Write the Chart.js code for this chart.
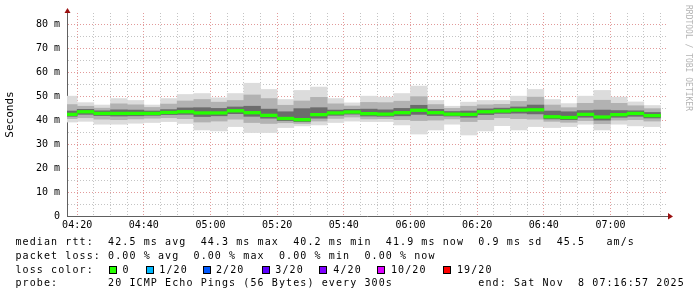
<!DOCTYPE html>
<html>
<head>
<meta charset="utf-8">
<script src="https://cdn.jsdelivr.net/npm/chart.js@4/dist/chart.umd.min.js"></script>
<style>
  html, body { margin: 0; padding: 0; background: #fff; }
  #wrap { position: relative; width: 697px; height: 297px; overflow: hidden; }
  #graph { position: absolute; left: 0; top: 0; }
  .leg { position: absolute; font-family: "DejaVu Sans Mono", monospace; font-size: 10px;
         letter-spacing: 1.1px; white-space: pre; color: #000; line-height: 12px; }
  .box { position: absolute; width: 6px; height: 6px; border: 1px solid #000; top: 265.5px; }
  #credit { position: absolute; left: 684px; top: 5px; font-family: "DejaVu Sans Mono", monospace;
            font-size: 8px; color: #b4b4b4; writing-mode: vertical-rl; white-space: pre; }
</style>
</head>
<body>
<div id="wrap">
  <canvas id="graph" width="697" height="297"></canvas>
  <div id="credit">RRDTOOL / TOBI OETIKER</div>
  <div class="leg" style="left:15.5px;top:236px">median rtt:  42.5 ms avg  44.3 ms max  40.2 ms min  41.9 ms now  0.9 ms sd  45.5   am/s</div>
  <div class="leg" style="left:15.5px;top:249.5px">packet loss: 0.00 % avg  0.00 % max  0.00 % min  0.00 % now</div>
  <div class="leg" id="lossRow" style="left:15.5px;top:263.8px">loss color:</div>
  <div class="leg" style="left:15.5px;top:277.2px">probe:       20 ICMP Echo Pings (56 Bytes) every 300s            end: Sat Nov  8 07:16:57 2025</div>
</div>
<script>
// 5 minute slots (end time of each slot)
const slotEnd = ['04:20','04:25','04:30','04:35','04:40','04:45','04:50','04:55',
  '05:00','05:05','05:10','05:15','05:20','05:25','05:30','05:35','05:40','05:45','05:50','05:55',
  '06:00','06:05','06:10','06:15','06:20','06:25','06:30','06:35','06:40','06:45','06:50','06:55',
  '07:00','07:05','07:10','07:15'];

// smoke: ping rtt spread per slot (ms), outer to inner
const maxRtt  = [50.0,47.3,46.3,49.0,48.2,46.3,49.0,50.7,51.1,49.3,51.1,55.4,52.8,48.6,52.4,53.8,49.0,47.2,
                 50.0,49.6,51.1,54.2,48.2,45.8,47.5,48.2,48.2,50.0,52.8,48.6,46.9,50.0,52.4,49.6,47.6,46.1];
const upRtt   = [46.5,45.8,45.0,46.8,46.4,45.3,46.7,48.0,48.6,47.5,48.2,50.5,49.0,46.2,48.0,49.5,46.8,45.9,
                 47.4,47.3,47.9,49.8,46.5,44.9,45.8,46.4,46.6,47.8,49.6,46.3,45.2,47.0,48.3,47.0,46.0,44.8];
const hiRtt   = [43.8,44.5,43.9,44.3,44.2,43.8,44.4,45.1,45.2,44.9,45.5,45.8,44.6,43.5,44.8,45.2,44.2,44.5,
                 44.6,44.3,44.9,46.2,44.5,43.6,43.8,44.7,45.0,45.5,46.3,43.8,43.5,44.0,44.2,44.0,43.9,43.2];
const medianRtt = [42.4,43.5,42.8,42.8,42.8,42.8,43.2,43.5,43.0,43.0,43.9,43.1,42.0,40.7,40.2,42.3,43.0,43.4,
                 42.7,42.5,43.1,44.1,43.1,42.5,42.4,43.5,43.8,44.2,44.3,41.4,41.1,42.4,41.3,42.3,42.8,41.9];
const loRtt   = [41.6,42.4,41.9,41.7,41.8,42.0,42.3,42.4,41.5,41.8,42.7,41.6,40.8,39.8,39.4,40.8,42.0,42.5,
                 41.7,41.6,41.8,42.4,41.9,41.7,41.2,42.3,42.8,42.9,42.6,40.5,40.2,41.2,40.0,41.2,41.6,40.9];
const downRtt = [40.6,41.0,40.4,40.2,40.5,40.8,41.0,40.6,39.2,39.6,40.4,39.0,38.6,38.9,38.6,39.6,40.7,41.3,
                 40.5,40.6,40.2,39.8,40.0,40.5,39.4,40.2,41.0,40.6,40.4,39.5,39.1,39.8,38.5,40.0,40.2,39.6];
const minRtt  = [39.2,39.5,38.3,38.3,38.7,39.0,39.4,38.6,35.9,35.5,37.3,34.8,34.8,36.9,37.6,38.0,39.0,39.6,
                 39.4,39.4,38.0,34.2,35.9,38.3,33.8,35.5,37.7,35.9,37.3,36.9,37.3,38.3,35.9,38.3,37.6,37.3];

const startTime = '04:16:57';
const endTime = '07:16:57';
const xTickLabels = ['04:20','04:40','05:00','05:20','05:40','06:00','06:20','06:40','07:00'];
const yTickLabels = [0, 10, 20, 30, 40, 50, 60, 70, 80];
const yMax = 84.7;

const lossLabels = ['0','1/20','2/20','3/20','4/20','10/20','19/20'];
const lossColors = ['#26ff00','#00b8ff','#0059ff','#5e00ff','#7e00ff','#dd00ff','#ff0000'];

// legend boxes for loss colors
const boxX = [108.7, 145.7, 202.7, 261.7, 319.3, 376.7, 443.3];
const labelX = [122.5, 159.3, 216, 275.3, 333.3, 391, 457];
const wrap = document.getElementById('wrap');
lossLabels.forEach((lab, i) => {
  const b = document.createElement('div');
  b.className = 'box';
  b.style.left = boxX[i] + 'px';
  b.style.background = lossColors[i];
  wrap.appendChild(b);
  const t = document.createElement('div');
  t.className = 'leg';
  t.style.left = labelX[i] + 'px';
  t.style.top = '263.8px';
  t.textContent = lab;
  wrap.appendChild(t);
});

const toMin = s => {
  const [h, m, sec = 0] = s.split(':').map(Number);
  return h * 60 + m + sec / 60;
};
const pad = n => String(n).padStart(2, '0');
const fmt = v => pad(Math.floor(v / 60)) + ':' + pad(Math.round(v % 60));

const centers = slotEnd.map(s => toMin(s) - 2.5);
const band = (lo, hi) => centers.map((x, i) => ({ x, y: [lo[i], hi[i]] }));

const majorGrid = '#e29a9a';
const minorGrid = '#c4c4c4';
const lineHalf = 0.55; // half thickness of the median line, ms

// axis arrows
const arrows = {
  id: 'arrows',
  afterDraw(chart) {
    const { ctx, chartArea: a } = chart;
    ctx.save();
    ctx.fillStyle = '#9a1010';
    ctx.beginPath();
    ctx.moveTo(a.left - 2.5, a.top);
    ctx.lineTo(a.left + 3.5, a.top);
    ctx.lineTo(a.left + 0.5, a.top - 5);
    ctx.closePath();
    ctx.fill();
    ctx.beginPath();
    ctx.moveTo(a.right + 1, a.bottom - 3);
    ctx.lineTo(a.right + 1, a.bottom + 3.5);
    ctx.lineTo(a.right + 6, a.bottom + 0.5);
    ctx.closePath();
    ctx.fill();
    ctx.restore();
  }
};

const tickFont = { family: 'DejaVu Sans Mono', size: 10 };

new Chart(document.getElementById('graph'), {
  type: 'bar',
  data: {
    datasets: [
      { data: band(medianRtt.map(m => m - lineHalf), medianRtt.map(m => m + lineHalf)), backgroundColor: lossColors[0], order: 0 },
      { data: band(loRtt, hiRtt), backgroundColor: '#6c6c6c', order: 1 },
      { data: band(downRtt, upRtt), backgroundColor: '#b2b2b2', order: 2 },
      { data: band(minRtt, maxRtt), backgroundColor: '#dcdcdc', order: 3 }
    ]
  },
  options: {
    responsive: false,
    animation: false,
    devicePixelRatio: 1,
    layout: { padding: { top: 13, right: 30, left: 0, bottom: 0 } },
    plugins: { legend: { display: false }, tooltip: { enabled: false } },
    datasets: { bar: { grouped: false, barPercentage: 1, categoryPercentage: 1, borderWidth: 0, clip: 0 } },
    scales: {
      x: {
        type: 'linear',
        offset: false,
        min: toMin(startTime),
        max: toMin(endTime),
        z: 1,
        afterBuildTicks: s => {
          const t = [];
          for (let v = Math.ceil(s.min / 5) * 5; v <= s.max; v += 5) t.push({ value: v });
          s.ticks = t;
        },
        afterFit: s => { s.height = 81; },
        grid: {
          offset: false,
          drawTicks: false,
          color: c => (c.tick && xTickLabels.includes(fmt(c.tick.value))) ? majorGrid : minorGrid
        },
        border: { color: '#606060', dash: [1, 2] },
        ticks: {
          autoSkip: false, maxRotation: 0, padding: 3, color: '#000', font: tickFont,
          callback: v => xTickLabels.includes(fmt(v)) ? fmt(v) : ''
        }
      },
      y: {
        min: 0,
        max: yMax,
        z: 1,
        afterBuildTicks: s => {
          const t = [];
          for (let v = 0; v <= s.max; v += 5) t.push({ value: v });
          s.ticks = t;
        },
        afterFit: s => { s.width = 67; },
        grid: {
          drawTicks: false,
          color: c => (c.tick && yTickLabels.includes(c.tick.value)) ? majorGrid : minorGrid
        },
        border: { color: '#606060', dash: [1, 2] },
        ticks: {
          autoSkip: false, padding: 7, color: '#000', font: tickFont,
          callback: v => yTickLabels.includes(v) ? (v === 0 ? '0' : v + ' m') : ''
        },
        title: {
          display: true, text: 'Seconds', color: '#000',
          font: { family: 'DejaVu Sans Mono', size: 11 },
          padding: { top: 4, bottom: 0 }
        }
      }
    }
  },
  plugins: [arrows]
});
</script>
</body>
</html>
